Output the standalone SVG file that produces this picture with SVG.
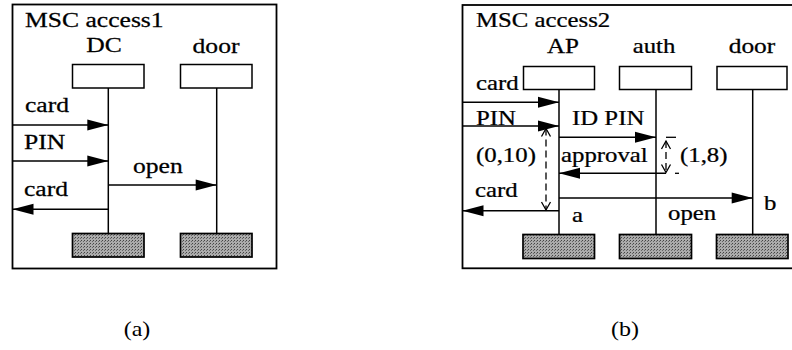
<svg xmlns="http://www.w3.org/2000/svg" width="792" height="350" viewBox="0 0 792 350">
<style>
.t{font-family:"Liberation Serif","Times New Roman",serif;font-size:20px;fill:#000;stroke:#000;stroke-width:0.25}
.m{text-anchor:middle}
.frame{fill:#fff;stroke:#000;stroke-width:1.8}
.head{fill:#fff;stroke:#000;stroke-width:1.5}
.end{fill:url(#dots);stroke:#000;stroke-width:1.7}
.life{stroke:#000;stroke-width:1.5;fill:none}
.msg{stroke:#000;stroke-width:1.5;fill:none;marker-end:url(#ah)}
.timer{stroke:#000;stroke-width:1.3;fill:none;stroke-dasharray:7 4;marker-start:url(#chev);marker-end:url(#chev)}
.tick{stroke:#000;stroke-width:1.3;fill:none}
</style>
<defs>
<marker id="ah" markerUnits="userSpaceOnUse" markerWidth="22" markerHeight="11" refX="21" refY="5.5" orient="auto" overflow="visible">
<path d="M0,0 L21,5.5 L0,11 Z" fill="#000"/>
</marker>
<marker id="chev" markerUnits="userSpaceOnUse" markerWidth="10" markerHeight="10" refX="8" refY="5" orient="auto-start-reverse" overflow="visible">
<path d="M0,0.5 L8,5 L0,9.5" fill="none" stroke="#000" stroke-width="1.3"/>
</marker>
<pattern id="dots" width="3" height="3" patternUnits="userSpaceOnUse">
<rect width="3" height="3" fill="#ababab"/>
<rect width="1" height="1" fill="#444"/>
<rect x="2" y="1" width="1" height="1" fill="#666"/>
</pattern>
</defs>

<!-- Panel (a) -->
<g id="frame-access1">
<rect class="frame" x="12.5" y="4.5" width="264" height="264"/>
<text class="t" transform="translate(25,27) scale(1.28,1)">MSC access1</text>
</g>
<g id="node-DC">
<line class="life" x1="108.3" y1="88" x2="108.3" y2="233"/>
<rect class="head" x="72.5" y="64.5" width="71.5" height="23.5"/>
<rect class="end" x="72.5" y="233.5" width="71.5" height="23.5"/>
<text class="t m" transform="translate(104,52) scale(1.28,1)">DC</text>
</g>
<g id="node-door-a">
<line class="life" x1="216.7" y1="88" x2="216.7" y2="233"/>
<rect class="head" x="180.5" y="64.5" width="71.5" height="23.5"/>
<rect class="end" x="180.5" y="233.5" width="71.5" height="23.5"/>
<text class="t m" transform="translate(216,53) scale(1.28,1)">door</text>
</g>

<!-- Panel (b) -->
<g id="frame-access2">
<rect class="frame" x="462.5" y="5" width="340" height="263.3"/>
<text class="t" transform="translate(476,27) scale(1.24,1)">MSC access2</text>
</g>
<g id="node-AP">
<line class="life" x1="559" y1="89" x2="559" y2="234"/>
<rect class="head" x="523.5" y="66.5" width="71" height="23"/>
<rect class="end" x="523" y="234.5" width="71.5" height="24"/>
<text class="t m" transform="translate(563,53) scale(1.25,1)">AP</text>
</g>
<g id="node-auth">
<line class="life" x1="656" y1="89" x2="656" y2="234"/>
<rect class="head" x="619.5" y="66.5" width="72" height="23"/>
<rect class="end" x="619.5" y="234.5" width="72" height="24"/>
<text class="t m" transform="translate(654,53) scale(1.24,1)">auth</text>
</g>
<g id="node-door-b">
<line class="life" x1="752.7" y1="89" x2="752.7" y2="234"/>
<rect class="head" x="717" y="66.5" width="70" height="23"/>
<rect class="end" x="716.5" y="234.5" width="71.5" height="24"/>
<text class="t m" transform="translate(752,53) scale(1.27,1)">door</text>
</g>

<!-- Connectors -->
<g id="connectors">
<line class="msg" x1="12.5" y1="125" x2="108.3" y2="125"/>
<line class="msg" x1="12.5" y1="161" x2="108.3" y2="161"/>
<line class="msg" x1="108.3" y1="185" x2="216.7" y2="185"/>
<line class="msg" x1="108.3" y1="209.3" x2="12.5" y2="209.3"/>

<line class="msg" x1="462.5" y1="102.3" x2="559" y2="102.3"/>
<line class="msg" x1="462.5" y1="126" x2="559" y2="126"/>
<line class="msg" x1="559" y1="137.3" x2="656" y2="137.3"/>
<line class="msg" x1="666" y1="173.3" x2="559" y2="173.3"/>
<line class="msg" x1="559" y1="198" x2="752.7" y2="198"/>
<line class="msg" x1="559" y1="210.7" x2="462.5" y2="210.7"/>

<line class="timer" x1="546" y1="128.5" x2="546" y2="210"/>
<line class="timer" x1="666" y1="141" x2="666" y2="172.5"/>
<line class="tick" x1="666" y1="137.3" x2="676" y2="137.3"/>
<line class="tick" x1="675" y1="173.3" x2="679" y2="173.3"/>
</g>

<g id="labels">
<text class="t" transform="translate(25,112) scale(1.28,1)">card</text>
<text class="t" transform="translate(24,149) scale(1.28,1)">PIN</text>
<text class="t" transform="translate(133,173) scale(1.28,1)">open</text>
<text class="t" transform="translate(24,196) scale(1.28,1)">card</text>

<text class="t" transform="translate(476,90) scale(1.24,1)">card</text>
<text class="t" transform="translate(476,125) scale(1.24,1)">PIN</text>
<text class="t" transform="translate(572,125) scale(1.24,1)">ID PIN</text>
<text class="t" transform="translate(476,162) scale(1.24,1)">(0,10)</text>
<text class="t" transform="translate(561,162) scale(1.24,1)">approval</text>
<text class="t" transform="translate(680,162) scale(1.24,1)">(1,8)</text>
<text class="t" transform="translate(475,197) scale(1.24,1)">card</text>
<text class="t" transform="translate(572,222) scale(1.24,1)">a</text>
<text class="t" transform="translate(668,220) scale(1.24,1)">open</text>
<text class="t" transform="translate(764,210) scale(1.24,1)">b</text>
</g>

<g id="captions">
<text class="t m" style="stroke-width:0" transform="translate(137,336) scale(1.2,1)">(a)</text>
<text class="t m" style="stroke-width:0" transform="translate(625,336) scale(1.2,1)">(b)</text>
</g>
</svg>
